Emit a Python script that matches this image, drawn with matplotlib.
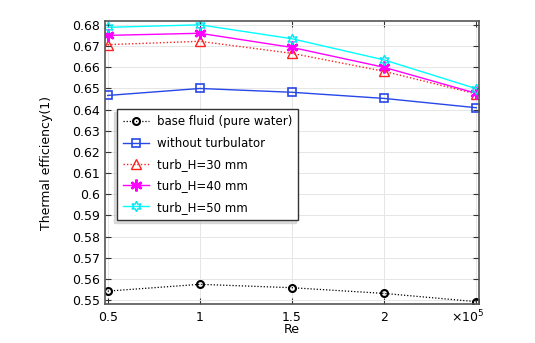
import matplotlib
matplotlib.use("Agg")
import matplotlib.pyplot as plt
from matplotlib.ticker import FixedLocator, FixedFormatter

re_vals = [0.5, 1.0, 1.5, 2.0, 2.5]  # in units of 1e5
base_fluid = [0.5542, 0.5574, 0.5558, 0.5531, 0.5492]
no_turb = [0.6467, 0.6500, 0.6482, 0.6453, 0.6409]
turb_30 = [0.6707, 0.6723, 0.6666, 0.6581, 0.6474]
turb_40 = [0.6751, 0.6761, 0.6694, 0.6600, 0.6477]
turb_50 = [0.6789, 0.6801, 0.6735, 0.6635, 0.6499]

labels = ["base fluid (pure water)", "without turbulator", "turb_H=30 mm",
          "turb_H=40 mm", "turb_H=50 mm"]
yticks = [0.55, 0.56, 0.57, 0.58, 0.59, 0.6, 0.61, 0.62, 0.63, 0.64, 0.65,
          0.66, 0.67, 0.68]
xtick_labels = ["0.5", "1", "1.5", "2", ""]

plt.rcParams['font.family'] = ['DejaVu Sans']
fig = plt.figure(figsize=(5.35, 3.43), dpi=100)
ax = fig.add_axes([105/535, 1 - 304/343, (478.7 - 105)/535, (304 - 21)/343])

ax.plot(re_vals, base_fluid, color='black', linestyle=(0, (1, 1.5)), lw=0.9,
        marker='o', ms=5, mfc='none', mec='black', mew=1.5, label=labels[0])
ax.plot(re_vals, no_turb, color='#2747e8', linestyle='-', lw=1.0,
        marker='s', ms=5.5, mfc='none', mec='#2747e8', mew=1.2, label=labels[1])
ax.plot(re_vals, turb_30, color='#ff2020', linestyle=(0, (1, 1.5)), lw=1.0,
        marker='^', ms=6.5, mfc='none', mec='#ff2020', mew=1.0, label=labels[2])
ax.plot(re_vals, turb_40, color='#ff00ff', linestyle='-', lw=1.0,
        marker=(6, 2, 0), ms=8.5, mec='#ff00ff', mew=1.8, label=labels[3])
ax.plot(re_vals, turb_50, color='#00ffff', linestyle='-', lw=1.0,
        marker=(6, 1, 0), ms=7.5, mfc='none', mec='#00e5f0', mew=1.0, label=labels[4])

ax.set_xlim(0.4854, 2.513)
ax.set_ylim(0.5481, 0.6819)
ax.xaxis.set_major_locator(FixedLocator(re_vals))
ax.xaxis.set_major_formatter(FixedFormatter(xtick_labels))
ax.yaxis.set_major_locator(FixedLocator(yticks))
ax.set_yticklabels([f"{v:g}" for v in yticks])
ax.tick_params(direction='in', top=True, right=True, labelsize=9, length=4,
               color='#333333')
ax.tick_params(axis='x', pad=5)
ax.grid(True, color='#e6e6e6', lw=0.7)
ax.set_axisbelow(True)
for s in ax.spines.values():
    s.set_color('#555555')
    s.set_linewidth(1.2)

ax.text(2.455, -0.018, "×10$^5$", transform=ax.get_xaxis_transform(),
        ha='center', va='top', fontsize=9)
ax.set_xlabel("Re", fontsize=9, labelpad=-1)
ax.set_ylabel("Thermal efficiency(1)", fontsize=9, labelpad=14)

leg = ax.legend(loc='upper left', bbox_to_anchor=((117 - 105)/373.7, (304 - 109)/283),
                borderaxespad=0, fontsize=8.5, frameon=True, fancybox=False,
                framealpha=1, edgecolor='#333333', labelspacing=0.7,
                handlelength=2.2, handletextpad=0.6, borderpad=0.55,
                shadow={'ox': -2, 'oy': -2, 'color': '0.75'})
leg.get_frame().set_linewidth(1.0)

fig.savefig("out.png", dpi=100)
